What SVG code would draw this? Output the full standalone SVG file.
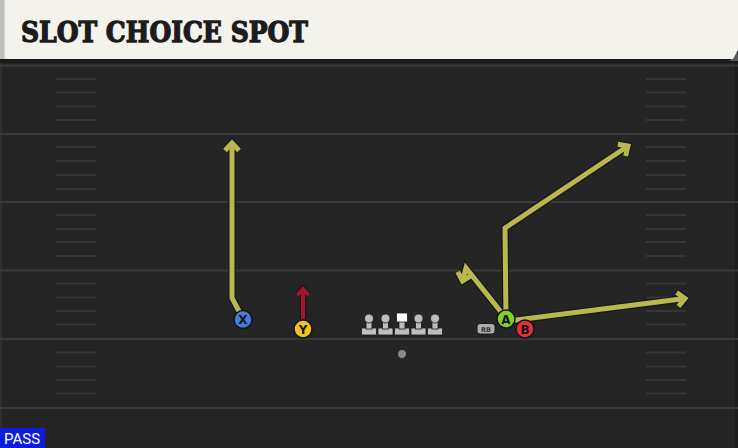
<svg xmlns="http://www.w3.org/2000/svg" xmlns:xlink="http://www.w3.org/1999/xlink" width="738" height="448" viewBox="0 0 738 448">
  <style>
    .yard { stroke: #3a3a3a; stroke-width: 2; }
    .hash { stroke: #363636; stroke-width: 2; }
    .outline { fill: none; stroke: #161622; stroke-width: 7.5; stroke-linejoin: miter; }
    .route { fill: none; stroke: #b8b84c; stroke-width: 5; stroke-linejoin: miter; }
    .route-o { marker-end: url(#ah-o); }
    .route-y { marker-end: url(#ah-y); }
    .block-o { fill: none; stroke: #161622; stroke-width: 6.5; marker-end: url(#ah-bo); }
    .block { fill: none; stroke: #a3162f; stroke-width: 4; marker-end: url(#ah-r); }
    .player { stroke: #151515; stroke-width: 1.5; }
    .plabel { font-family: "DejaVu Sans", "Liberation Sans", sans-serif; font-weight: bold; font-size: 12px; fill: #151515; text-anchor: middle; }
    .pawn { fill: #bdbdbd; stroke: #1a1a1a; stroke-width: 0.8; }
  </style>
  <defs>
    <marker id="ah-o" markerUnits="userSpaceOnUse" orient="auto" overflow="visible" markerWidth="10" markerHeight="10" refX="0" refY="0">
      <path d="M-7.5,-7 L0,0 L-7.5,7" fill="none" stroke="#161622" stroke-width="7.5"/>
    </marker>
    <marker id="ah-y" markerUnits="userSpaceOnUse" orient="auto" overflow="visible" markerWidth="10" markerHeight="10" refX="0" refY="0">
      <path d="M-7.5,-7 L0,0 L-7.5,7" fill="none" stroke="#b8b84c" stroke-width="5"/>
    </marker>
    <marker id="ah-bo" markerUnits="userSpaceOnUse" orient="auto" overflow="visible" markerWidth="10" markerHeight="10" refX="0" refY="0">
      <path d="M-6,-5.5 L0,0 L-6,5.5" fill="none" stroke="#161622" stroke-width="6.5"/>
    </marker>
    <marker id="ah-r" markerUnits="userSpaceOnUse" orient="auto" overflow="visible" markerWidth="10" markerHeight="10" refX="0" refY="0">
      <path d="M-6,-5.5 L0,0 L-6,5.5" fill="none" stroke="#a3162f" stroke-width="4"/>
    </marker>
    <path id="rx" d="M243,319 L232,298 L232,143"/>
    <path id="ra1" d="M506,317 L505,228 L628,146"/>
    <path id="ra2" d="M505,317 L466,268 L462.5,281"/>
    <path id="ra3" d="M508,321 L685,298.5"/>
    <path id="ry" d="M303,319 L303,289"/>
    <g id="pawn">
      <rect x="-7.5" y="-7" width="15" height="7" rx="1"/>
      <rect x="-3" y="-16" width="6" height="10"/>
      <circle cx="0" cy="-16.5" r="4.5"/>
    </g>
  </defs>

  <!-- field -->
  <rect x="0" y="0" width="738" height="448" fill="#252525"/>
  <rect x="0" y="60" width="2" height="388" fill="#2f2f2f"/>
  <rect x="735" y="60" width="3" height="388" fill="#1d1d1d"/>
  <rect x="0" y="59" width="738" height="4" fill="#1a1a1a"/>

  <g id="yardlines">
    <line class="yard" x1="0" y1="65.5" x2="738" y2="65.5"/>
    <line class="yard" x1="0" y1="134" x2="738" y2="134"/>
    <line class="yard" x1="0" y1="202" x2="738" y2="202"/>
    <line class="yard" x1="0" y1="270.5" x2="738" y2="270.5"/>
    <line class="yard" x1="0" y1="339" x2="738" y2="339"/>
    <line class="yard" x1="0" y1="408" x2="738" y2="408"/>
  </g>
  <g id="hashes">
    <path class="hash" d="M56,79H96M56,92.5H96M56,106.5H96M56,120H96
      M56,147H96M56,161H96M56,175H96M56,189H96
      M56,215H96M56,229H96M56,242H96M56,256H96
      M56,283.5H96M56,297.5H96M56,311H96M56,324.5H96
      M56,352.5H96M56,366.5H96M56,380H96M56,393.5H96
      M646,79H686M646,92.5H686M646,106.5H686M646,120H686
      M646,147H686M646,161H686M646,175H686M646,189H686
      M646,215H686M646,229H686M646,242H686M646,256H686
      M646,283.5H686M646,297.5H686M646,311H686M646,324.5H686
      M646,352.5H686M646,366.5H686M646,380H686M646,393.5H686"/>
  </g>

  <!-- title banner -->
  <g id="title">
    <polygon points="733,53 738,53 738,61 730,61" fill="#5a5a5a"/>
    <polygon points="0,0 738,0 738,50 733,59 0,59" fill="#f4f2ec"/>
    <rect x="0" y="0" width="4" height="59" fill="#bdbdbb"/>
    <rect x="4" y="0" width="1.5" height="59" fill="#dcdcda"/>
    <text x="21" y="42" font-family="'DejaVu Serif', 'Liberation Serif', serif" font-weight="bold" font-size="27.5" fill="#1c1c1c" stroke="#1c1c1c" stroke-width="1.3" stroke-linejoin="miter" textLength="287" lengthAdjust="spacingAndGlyphs">SLOT CHOICE SPOT</text>
  </g>

  <!-- connectors -->
  <g id="connectors">
    <use xlink:href="#rx" class="outline route-o"/>
    <use xlink:href="#ra1" class="outline route-o"/>
    <use xlink:href="#ra2" class="outline route-o"/>
    <use xlink:href="#ra3" class="outline route-o"/>
    <use xlink:href="#rx" class="route route-y"/>
    <use xlink:href="#ra1" class="route route-y"/>
    <use xlink:href="#ra2" class="route route-y"/>
    <use xlink:href="#ra3" class="route route-y"/>
    <use xlink:href="#ry" class="block-o"/>
    <use xlink:href="#ry" class="block"/>
  </g>

  <!-- offensive line -->
  <g id="lt"><use xlink:href="#pawn" class="pawn" transform="translate(369,335)"/></g>
  <g id="lg"><use xlink:href="#pawn" class="pawn" transform="translate(385.5,335)"/></g>
  <g id="c">
    <rect x="394.5" y="328" width="15" height="7" rx="1" class="pawn"/>
    <rect x="399" y="320" width="6" height="9" class="pawn"/>
    <rect x="396.5" y="313" width="11" height="9" fill="#ffffff" stroke="#1a1a1a" stroke-width="0.8"/>
  </g>
  <g id="rg"><use xlink:href="#pawn" class="pawn" transform="translate(418.5,335)"/></g>
  <g id="rt"><use xlink:href="#pawn" class="pawn" transform="translate(435,335)"/></g>

  <g id="qb"><circle cx="402" cy="354" r="4.5" fill="#8a8a8a" stroke="#1a1a1a" stroke-width="0.8"/></g>

  <g id="rb">
    <rect x="477" y="323.5" width="18" height="10.5" rx="3" fill="#ababab" stroke="#1a1a1a" stroke-width="1"/>
    <text x="486" y="331.5" font-family="'DejaVu Sans', sans-serif" font-weight="bold" font-size="6.5" fill="#333" text-anchor="middle">RB</text>
  </g>

  <g id="x">
    <circle class="player" cx="243" cy="319.5" r="9" fill="#4a7bd8"/>
    <text class="plabel" x="243" y="324">X</text>
  </g>
  <g id="y">
    <circle class="player" cx="303" cy="329" r="9" fill="#f0c419"/>
    <text class="plabel" x="303" y="333.5">Y</text>
  </g>
  <g id="a">
    <circle class="player" cx="506" cy="319" r="9" fill="#7fd22a"/>
    <text class="plabel" x="506" y="323.5">A</text>
  </g>
  <g id="b">
    <circle class="player" cx="525" cy="329" r="9" fill="#e0303d"/>
    <text class="plabel" x="525" y="333.5">B</text>
  </g>

  <g id="pass">
    <rect x="0" y="428" width="45" height="20" fill="#0c1de0"/>
    <text x="4" y="444" font-family="Roboto, 'Liberation Sans', sans-serif" font-size="15" fill="#ffffff">PASS</text>
  </g>
</svg>
